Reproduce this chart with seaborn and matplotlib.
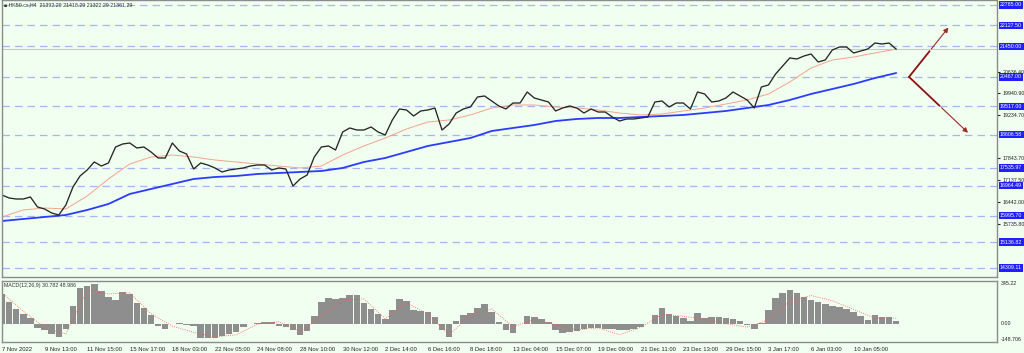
import numpy as np
import matplotlib
matplotlib.use("Agg")
import matplotlib.pyplot as plt
import matplotlib.transforms as mtransforms
import seaborn as sns

# plain white style, fonts set after the style call
sns.set_style("white")
plt.rcParams['font.family'] = ['Liberation Sans', 'DejaVu Sans']

# --- data (one point = two H4 bars) ---
closes = [16661, 16565, 16532, 16532, 16597, 16275, 16210, 16081, 16017, 16339,
          16919, 17274, 17467, 17725, 17596, 17693, 18208, 18305, 18337, 18176,
          18208, 18047, 17854, 17854, 18337, 18079, 17983, 17499, 17693, 17628,
          17532, 17403, 17467, 17499, 17532, 17596, 17628, 17628, 17467, 17532,
          17499, 16951, 17177, 17306, 17886, 18208, 18241, 18112, 18692, 18821,
          18756, 18756, 18853, 18692, 18595, 19079, 19433, 19401, 19207, 19369,
          19401, 19465, 18756, 18950, 19304, 19433, 19498, 19820, 19852, 19691,
          19530, 19433, 19626, 19626, 19981, 19788, 19723, 19659, 19369, 19465,
          19530, 19465, 19304, 19433, 19336, 19336, 19175, 19046, 19111, 19111,
          19143, 19175, 19659, 19691, 19498, 19626, 19626, 19433, 19981, 19917,
          19659, 19691, 19788, 19981, 19852, 19723, 19465, 20142, 20207, 20561,
          20819, 21077, 21045, 21141, 21206, 20948, 21012, 21335, 21431, 21431,
          21238, 21302, 21367, 21560, 21528, 21560, 21361]

# moving averages, sampled every third point
ma_slow = [15823, 15888, 15952, 16017, 16178, 16371, 16694, 16855, 17016, 17177,
           17241, 17274, 17338, 17370, 17403, 17435, 17532, 17725, 17854, 18047,
           18241, 18369, 18498, 18724, 18821, 18917, 19046, 19111, 19143, 19143,
           19175, 19207, 19240, 19304, 19369, 19465, 19562, 19723, 19917, 20078,
           20239, 20432, 20593]
ma_fast = [15952, 16178, 16242, 16210, 16629, 17177, 17660, 17886, 17950, 17886,
           17789, 17725, 17660, 17596, 17532, 17596, 17950, 18241, 18498, 18788,
           19014, 19079, 19240, 19465, 19562, 19562, 19498, 19465, 19401, 19304,
           19240, 19272, 19369, 19465, 19594, 19723, 19917, 20303, 20755, 21012,
           21109, 21238, 21367]

# MACD(12,26,9)
macd_hist = [240, 175, 120, 75, 42, -33, -50, -80, -112, -40,
             140, 290, 305, 320, 265, 215, 189, 253, 240, 170,
             128, 70, -16, -45, 0, 5, -8, -16, -115, -118,
             -115, -104, -85, -65, -30, 0, 8, 14, 10, -18,
             -27, -55, -95, -60, 60, 175, 205, 197, 205, 232,
             230, 170, 118, 75, 37, 110, 200, 180, 110, 99,
             95, 55, -55, -110, 20, 66, 83, 125, 155, 95,
             15, -50, -74, 0, 60, 50, 35, 15, -50, -72,
             -70, -60, -40, -38, -35, -40, -46, -50, -48, -45,
             -25, -5, 70, 128, 80, 58, 49, 20, 85, 48,
             55, 51, 47, 38, 20, -15, -45, 5, 110, 205,
             250, 270, 250, 215, 188, 174, 160, 146, 131, 115,
             95, 60, 30, 66, 50, 55, 25]
macd_signal = [250, 100, -30, -85, 270, 240, 250, 80, -20, -70,
               -108, -90, -5, 15, -60, 60, 190, 200, 40, 170,
               75, -90, 70, 120, -25, 35, -10, -50, -35, -90,
               -30, 75, 60, 35, 0, -28, 30, 180, 228, 185,
               115, 45, 45]

# horizontal levels drawn on the chart
levels = [22785.00, 22127.50, 21450.00, 20467.00, 19517.00, 18606.58,
          17535.97, 16964.49, 15995.70, 15136.82, 14309.11]
scale_ticks = [20636.40, 19940.90, 19234.70, 17843.70, 17137.50, 16442.00, 15735.80]
last_price = 21361.29

date_labels = ['7 Nov 2022', '9 Nov 13:00', '11 Nov 15:00', '15 Nov 17:00', '18 Nov 03:00',
               '22 Nov 05:00', '24 Nov 08:00', '28 Nov 10:00', '30 Nov 12:00', '2 Dec 14:00',
               '6 Dec 16:00', '8 Dec 18:00', '13 Dec 04:00', '15 Dec 07:00', '19 Dec 09:00',
               '21 Dec 11:00', '23 Dec 13:00', '29 Dec 15:00', '3 Jan 17:00', '6 Jan 03:00',
               '10 Jan 05:00']

bg = '#f0fff0'
edge = '#8c8c8c'

fig = plt.figure(figsize=(10.24, 3.53), dpi=100, facecolor=bg)
ax = fig.add_axes([2 / 1024, 76 / 353, 995 / 1024, 277 / 353], facecolor=bg)
axm = fig.add_axes([2 / 1024, 11 / 353, 995 / 1024, 61 / 353], facecolor=bg)

idx = np.arange(len(closes))
ma_idx = np.arange(0, len(closes), 3)

# --- price panel ---
for lev in levels:
    ax.axhline(lev, color='#a7b6f2', lw=0.9, ls=(0, (6, 4)), zorder=0)
ax.axhline(last_price, color='#c9c9c9', lw=0.8, zorder=0)

sns.lineplot(x=ma_idx, y=ma_fast, ax=ax, color='#f3a48c', lw=0.7)
sns.lineplot(x=ma_idx, y=ma_slow, ax=ax, color='#2b3cff', lw=1.3)
sns.lineplot(x=idx, y=closes, ax=ax, color='#262626', lw=0.95)

# projection arrows from the 20467 pivot
x0 = len(closes) + 0.8
up_end = (x0 + 5.8, levels[1])
dn_end = (x0 + 8.6, levels[5])
for end in (up_end, dn_end):
    mid = ((x0 + end[0]) / 2, (levels[3] + end[1]) / 2)
    ax.plot([x0, mid[0]], [levels[3], mid[1]], color='#8b1111', lw=1.3, solid_capstyle='round')
    ax.annotate('', xy=end, xytext=mid,
                arrowprops=dict(arrowstyle='-|>', color='#9b2a2a', lw=0.8, mutation_scale=7))

ax.set_xlim(0, 140.2)
ax.set_ylim(14018, 22946)
ax.set_xlabel('')
ax.set_ylabel('')
ax.tick_params(axis='x', bottom=False, labelbottom=False)
ax.yaxis.tick_right()
ax.set_yticks(scale_ticks)
ax.set_yticklabels([f"{v:.2f}" for v in scale_ticks])
ax.tick_params(axis='y', length=2, pad=2, labelsize=3.8, colors='#222222')

trans = mtransforms.blended_transform_factory(ax.transAxes, ax.transData)
for lev in levels:
    ax.text(1.003, lev, f"{lev:.2f}", transform=trans, fontsize=3.8, va='center', ha='left',
            color='white', clip_on=False,
            bbox=dict(boxstyle='square,pad=0.25', fc='#2020ff', ec='none'))

ax.text(0.002, 0.992, '\u25a0 HK50.cs,H4  21392.29 21418.29 21322.29 21361.29',
        transform=ax.transAxes, va='top', ha='left', fontsize=3.8, color='#333333')

# --- MACD panel ---
axm.bar(idx, macd_hist, width=0.92, color='#8e8e8e', lw=0)
sns.lineplot(x=ma_idx, y=macd_signal, ax=axm, color='#ff5a48', lw=0.6, ls=':')
axm.set_xlim(0, 140.2)
axm.set_ylim(-148.706, 345.22)
axm.set_xlabel('')
axm.set_ylabel('')
axm.set_yticks([])
axm.set_xticks(np.arange(0, 6 * len(date_labels), 6))
axm.set_xticklabels(date_labels, ha='left')
axm.tick_params(axis='x', length=2, pad=1.5, labelsize=4.2, colors='#222222')

tm = mtransforms.blended_transform_factory(axm.transAxes, axm.transData)
axm.text(1.004, 345.22, '345.22', transform=tm, fontsize=3.8, va='top', ha='left', color='#222222')
axm.text(1.004, 0, '0.00', transform=tm, fontsize=3.8, va='center', ha='left', color='#222222')
axm.text(1.004, -148.706, '-148.706', transform=tm, fontsize=3.8, va='bottom', ha='left', color='#222222')
axm.text(0.002, 0.97, 'MACD(12,26,9) 30.782 48.986', transform=axm.transAxes,
         va='top', ha='left', fontsize=3.8, color='#333333')

for a in (ax, axm):
    for s in a.spines.values():
        s.set_color(edge)
        s.set_linewidth(1.0)

fig.savefig('out.png', dpi=100, facecolor=bg)
